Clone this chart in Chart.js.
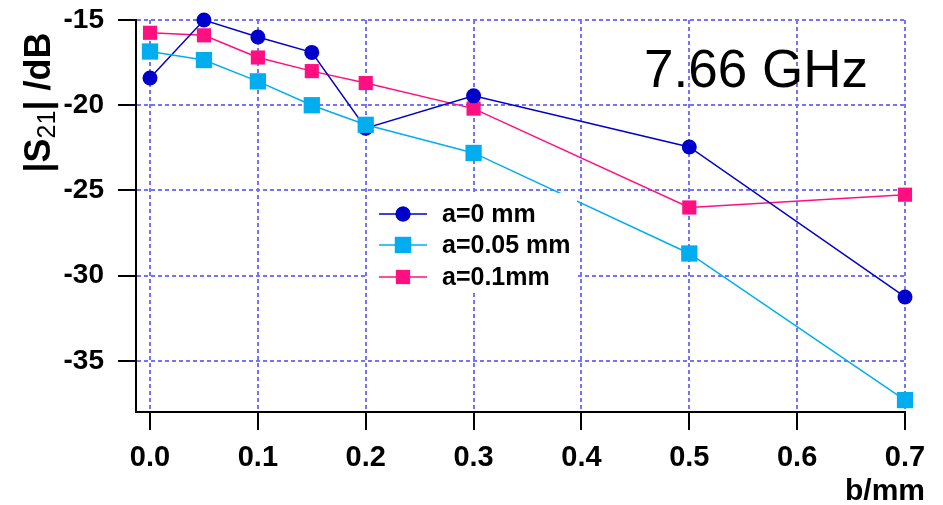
<!DOCTYPE html>
<html>
<head>
<meta charset="utf-8">
<script src="https://cdn.jsdelivr.net/npm/chart.js@4.4.1/dist/chart.umd.min.js"></script>
<style>
  html, body { margin: 0; padding: 0; background: #fff; }
  #wrap { width: 943px; height: 505px; }
</style>
</head>
<body>
<div id="wrap"><canvas id="chart" width="943" height="505"></canvas></div>
<script>
const bValues = [0, 0.05, 0.1, 0.15, 0.2, 0.3, 0.5, 0.7];
const s21A0 = [-18.4, -15.0, -16.0, -16.9, -21.35, -19.45, -22.45, -31.25];
const s21A005 = [-16.85, -17.35, -18.6, -20.0, -21.15, -22.8, -28.7, -37.3];
const s21A01 = [-15.75, -15.9, -17.2, -18.0, -18.7, -20.2, -26.0, -25.25];
const seriesLabels = ["a=0 mm", "a=0.05 mm", "a=0.1mm"];
const xTicks = [0, 0.1, 0.2, 0.3, 0.4, 0.5, 0.6, 0.7];
const yTicks = [-35, -30, -25, -20, -15];

const FONT = "'Liberation Sans', Arial, sans-serif";
const toPoints = ys => bValues.map((b, i) => ({ x: b, y: ys[i] }));

// legend entries share the dataset styling
const series = [
  { label: seriesLabels[0], data: s21A0, color: "#0000cc", style: "circle", radius: 7.5, order: 1 },
  { label: seriesLabels[1], data: s21A005, color: "#00aeef", style: "rect", radius: 11.5, order: 0 },
  { label: seriesLabels[2], data: s21A01, color: "#ff0f80", style: "rect", radius: 10, order: 2 }
];

const overlay = {
  id: "overlay",
  afterDraw(chart) {
    const ctx = chart.ctx;
    ctx.save();

    // legend box inside the plot
    ctx.fillStyle = "#fff";
    ctx.fillRect(367, 193, 210, 99);
    const rows = [214, 245, 277];
    series.forEach((s, i) => {
      const y = rows[i];
      ctx.strokeStyle = s.color;
      ctx.lineWidth = 1.5;
      ctx.beginPath();
      ctx.moveTo(379, y);
      ctx.lineTo(427, y);
      ctx.stroke();
      ctx.fillStyle = s.color;
      Chart.helpers.drawPoint(ctx, { pointStyle: s.style, radius: s.radius, rotation: 0, borderWidth: 0 }, 403, y);
      ctx.fill();
      ctx.fillStyle = "#000";
      ctx.font = "bold 25px " + FONT;
      ctx.textAlign = "left";
      ctx.textBaseline = "middle";
      ctx.fillText(s.label, 442, y + 1);
    });

    // frequency label
    ctx.fillStyle = "#000";
    ctx.font = "53px " + FONT;
    ctx.textAlign = "center";
    ctx.textBaseline = "alphabetic";
    ctx.fillText("7.66 GHz", 756, 87);

    // x axis title
    ctx.font = "bold 30px " + FONT;
    ctx.textAlign = "right";
    ctx.fillText("b/mm", 925, 500);

    // y axis title with subscript
    const parts = [
      { t: "|S", f: "bold 36px " + FONT, dy: 0 },
      { t: "21", f: "25px " + FONT, dy: 5 },
      { t: "| /dB", f: "bold 36px " + FONT, dy: 0 }
    ];
    let total = 0;
    parts.forEach(p => { ctx.font = p.f; p.w = ctx.measureText(p.t).width; total += p.w; });
    ctx.translate(50, 102.5);
    ctx.rotate(-Math.PI / 2);
    ctx.textAlign = "left";
    let px = -total / 2;
    parts.forEach(p => {
      ctx.font = p.f;
      ctx.fillText(p.t, px, p.dy);
      px += p.w;
    });
    ctx.restore();
  }
};

new Chart(document.getElementById("chart"), {
  type: "scatter",
  data: {
    datasets: series.map(s => ({
      label: s.label,
      data: toPoints(s.data),
      showLine: true,
      borderColor: s.color,
      backgroundColor: s.color,
      borderWidth: 1.5,
      pointStyle: s.style,
      pointRadius: s.radius,
      pointHoverRadius: s.radius,
      pointBorderWidth: 0,
      order: s.order,
      clip: false
    }))
  },
  options: {
    responsive: false,
    animation: false,
    events: [],
    layout: { padding: { left: 0, top: 20, right: 38, bottom: 0 } },
    plugins: { legend: { display: false }, tooltip: { enabled: false } },
    scales: {
      x: {
        type: "linear",
        min: -0.013,
        max: 0.7,
        afterBuildTicks: scale => { scale.ticks = xTicks.map(v => ({ value: v })); },
        afterFit: scale => { scale.height = 93; scale.paddingLeft = 0; scale.paddingRight = 0; },
        ticks: {
          color: "#000",
          font: { family: FONT, size: 29, weight: "bold" },
          padding: 11,
          maxRotation: 0,
          callback: v => v.toFixed(1)
        },
        grid: { color: "#7373ff", lineWidth: 2, tickColor: "#000", tickLength: 18, tickWidth: 2 },
        border: { color: "#000", width: 2, dash: [4, 3] }
      },
      y: {
        type: "linear",
        min: -38,
        max: -15,
        afterBuildTicks: scale => { scale.ticks = yTicks.map(v => ({ value: v })); },
        afterFit: scale => { scale.width = 136; scale.paddingTop = 0; scale.paddingBottom = 0; },
        ticks: {
          color: "#000",
          font: { family: FONT, size: 28, weight: "bold" },
          padding: 14,
          callback: v => String(v)
        },
        grid: { color: "#7373ff", lineWidth: 2, tickColor: "#000", tickLength: 18, tickWidth: 2 },
        border: { color: "#000", width: 2, dash: [4, 3] }
      }
    }
  },
  plugins: [overlay]
});
</script>
</body>
</html>
